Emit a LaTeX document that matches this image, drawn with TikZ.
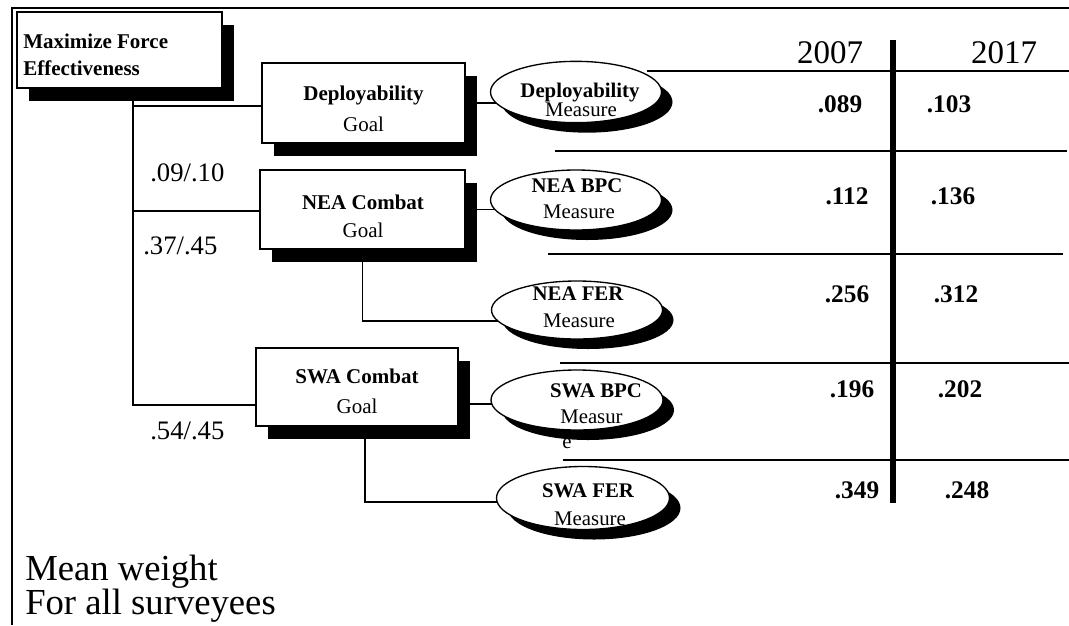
\documentclass[tikz,border=0pt]{standalone}
\usepackage{fontspec}
\setmainfont{Liberation Serif}
\usetikzlibrary{shadows,backgrounds,calc,fit,shapes.geometric}
\newcommand{\fsz}[1]{\fontsize{#1}{#1}\selectfont}
\begin{document}
\begin{tikzpicture}[x=0.75pt,y=-0.75pt,
  conn/.style={line width=1pt},
  goalbox/.style={draw, fill=white, line width=0.9pt, inner sep=0pt,
     drop shadow={shadow xshift=9pt, shadow yshift=-10pt, fill=black, opacity=1}},
  meas/.style={ellipse, draw, fill=white, line width=1pt, inner sep=0pt,
     drop shadow={shadow xshift=8.25pt, shadow yshift=-7.5pt, fill=black, opacity=1}},
  gbold/.style={anchor=base, inner sep=0pt, font=\bfseries\fsz{15.75pt}},
  greg/.style={anchor=base, inner sep=0pt, font=\fsz{15.75pt}},
  mbold/.style={anchor=base, inner sep=0pt, font=\bfseries\fsz{15.6pt}},
  mreg/.style={anchor=base, inner sep=0pt, font=\fsz{15.6pt}},
  val/.style={anchor=base, inner sep=0pt, font=\bfseries\fsz{19pt}},
  wt/.style={anchor=base west, inner sep=0pt, font=\fsz{20pt}},
  bigtxt/.style={anchor=base west, inner sep=0pt, font=\fsz{27.5pt}},
  yr/.style={anchor=base, inner sep=0pt, font=\fsz{24.75pt}},
  rowrule/.style={line width=1.5pt},
  frame/.style={line width=1.1pt}]
\useasboundingbox (0,0) rectangle (1069,625);

% frame
\draw[frame] (12,625) -- (12,8) -- (1069,8);

% goal boxes
\node[goalbox, fit={(17,12) (222,88)}] (max) {};
\node[gbold, anchor=base west] (m1) at (23,48) {Maximize Force};
\node[gbold, anchor=base west] (m2) at (23,75) {Effectiveness};

\node[goalbox, fit={(262,63) (465,143)}] (dep) {};
\node[gbold] (d1) at (363.5,100) {Deployability};
\node[greg] (d2) at (363.5,131) {Goal};

\node[goalbox, fit={(260,170) (465,249)}] (nea) {};
\node[gbold] (n1) at (363,209) {NEA Combat};
\node[greg] (n2) at (363,237) {Goal};

\node[goalbox, fit={(256,348) (458,426)}] (swa) {};
\node[gbold] (s1) at (357,383) {SWA Combat};
\node[greg] (s2) at (357,413) {Goal};

% measures
\node[meas, minimum width=128.25pt, minimum height=46pt] (depm) at (576,92) {};
\node[mbold] (dm1) at (580,97) {Deployability};
\node[mreg] (dm2) at (581,116) {Measure};

\node[meas, minimum width=128.25pt, minimum height=45pt] (neab) at (576,200) {};
\node[mbold] (nb1) at (577,192) {NEA BPC};
\node[mreg] (nb2) at (579,218) {Measure};

\node[meas, minimum width=128.25pt, minimum height=43.5pt] (nef) at (577,310) {};
\node[mbold] (nf1) at (578,300) {NEA FER};
\node[mreg] (nf2) at (579,327) {Measure};

\node[meas, minimum width=129pt, minimum height=45pt] (swab) at (577,400) {};
\node[mbold] (sb1) at (596,397) {SWA BPC};
\node[mreg, anchor=base west] (sb2) at (560,423) {Measur};
\node[mreg, anchor=base west] (sb3) at (562,448) {e};

\node[meas, minimum width=129.75pt, minimum height=47.25pt] (swf) at (583,498) {};
\node[mbold] (sf1) at (588,497) {SWA FER};
\node[mreg] (sf2) at (590,525) {Measure};

% connectors
\coordinate (tt) at (133,106);
\coordinate (tm) at (133,211);
\coordinate (tb) at (133,405);
\path ($(swab.center)+(0,4)$) coordinate (sc);
\path ($(nef.center)+(0,11)$) coordinate (nc);
\path ($(swf.center)+(0,4)$) coordinate (fc);
\path ($(swa.south)+(8,0)$) coordinate (ss);
\begin{pgfonlayer}{background}
\draw[conn] (max.south -| tt) -- (tb) -- (tb -| swa.west);
\draw[conn] (tt) -- (tt -| dep.west);
\draw[conn] (tm) -- (tm -| nea.west);
\draw[conn] (dep.east) -- (dep.east -| depm.center);
\draw[conn] (nea.east) -- (nea.east -| neab.center);
\draw[conn] (sc -| swa.east) -- (sc);
\draw[conn] (nea.south) |- (nc);
\draw[conn] (ss) |- (fc);
\end{pgfonlayer}

% weights
\node[wt] (w1) at (150,181) {.09/.10};
\node[wt] (w2) at (143,254) {.37/.45};
\node[wt] (w3) at (150,439) {.54/.45};

% table
\node[yr] (y1) at (830,63) {2007};
\node[yr] (y2) at (1004,63) {2017};
\draw[rowrule] (647,71) -- (1069,71);
\draw[rowrule] (555,151) -- (1067,151);
\draw[rowrule] (548,254) -- (1063,254);
\draw[rowrule] (560,363) -- (1069,363);
\draw[rowrule] (563,460) -- (1069,460);
\draw[line width=3.8pt] (893,40) -- (893,503);

\node[val] (v1) at (840,112) {.089};
\node[val] (v2) at (949,112) {.103};
\node[val] (v3) at (847,204) {.112};
\node[val] (v4) at (953,204) {.136};
\node[val] (v5) at (847,302) {.256};
\node[val] (v6) at (956,302) {.312};
\node[val] (v7) at (852,397) {.196};
\node[val] (v8) at (960,397) {.202};
\node[val] (v9) at (857,498) {.349};
\node[val] (v10) at (967,498) {.248};

% caption
\node[bigtxt] (c1) at (25,580) {Mean weight};
\node[bigtxt] (c2) at (25,614) {For all surveyees};
\end{tikzpicture}
\end{document}
